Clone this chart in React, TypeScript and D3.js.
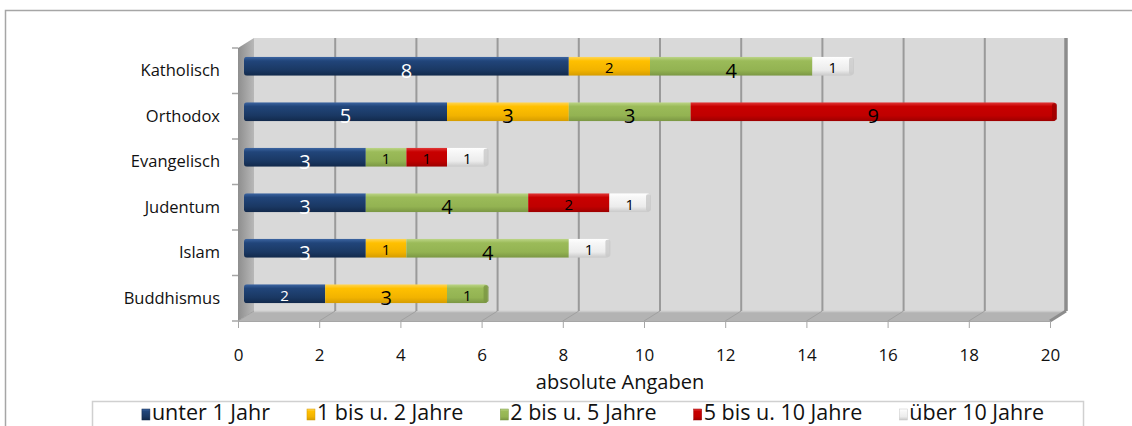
import { useRef, useEffect } from "react";
import * as d3 from "d3";

// categories top to bottom
const categories = ["Katholisch", "Orthodox", "Evangelisch", "Judentum", "Islam", "Buddhismus"];
const seriesNames = ["unter 1 Jahr", "1 bis u. 2 Jahre", "2 bis u. 5 Jahre", "5 bis u. 10 Jahre", "über 10 Jahre"];
// values per series, one per category
const unter1 = [8, 5, 3, 3, 3, 2];
const bis2 = [2, 3, 0, 0, 1, 3];
const bis5 = [4, 3, 1, 4, 4, 1];
const bis10 = [0, 9, 1, 2, 0, 0];
const ueber10 = [1, 0, 1, 1, 1, 0];
const xTicks = [0, 2, 4, 6, 8, 10, 12, 14, 16, 18, 20];
const xTitle = "absolute Angaben";

const colors = [
  ["#3d66a3", "#21457a", "#1a3863", "#12294b"],
  ["#ffd659", "#ffc000", "#f2b300", "#d59c00"],
  ["#bdd688", "#9bbb59", "#93b352", "#7a9643"],
  ["#e23a3a", "#c80000", "#c00000", "#9c0000"],
  ["#ffffff", "#f7f7f7", "#ececec", "#c8c8c8"],
];

const W = 1132;
const H = 426;
const FONT = "'Open Sans', Lato, sans-serif";

export default function App() {
  const svgRef = useRef<SVGSVGElement>(null);

  useEffect(() => {
    const svg = d3.select(svgRef.current);
    svg.selectAll("*").remove();

    const series = [unter1, bis2, bis5, bis10, ueber10];
    const rows = categories.map((c, i) => {
      const r: any = { cat: c };
      series.forEach((s, k) => (r["s" + k] = s[i]));
      return r;
    });
    const stacked = d3.stack().keys(series.map((_, k) => "s" + k))(rows);

    // front face geometry
    const x = d3.scaleLinear().domain([0, 20]).range([238, 1050]);
    const y = d3.scaleBand().domain(categories).range([48, 321]).paddingInner(0);
    const dx = 16, dy = -10; // depth offset of back wall
    const bx = 6, by = -4.5; // bars sit mid-depth
    const barH = 19;

    const defs = svg.append("defs");
    colors.forEach((c, k) => {
      const g = defs.append("linearGradient").attr("id", "g" + k).attr("x1", 0).attr("x2", 0).attr("y1", 0).attr("y2", 1);
      g.append("stop").attr("offset", "0%").attr("stop-color", c[0]);
      g.append("stop").attr("offset", "22%").attr("stop-color", c[1]);
      g.append("stop").attr("offset", "70%").attr("stop-color", c[2]);
      g.append("stop").attr("offset", "100%").attr("stop-color", c[3]);
    });
    const side = defs.append("linearGradient").attr("id", "side").attr("x1", 0).attr("x2", 1).attr("y1", 0).attr("y2", 0);
    side.append("stop").attr("offset", "0%").attr("stop-color", "#8e8e8e");
    side.append("stop").attr("offset", "100%").attr("stop-color", "#b8b8b8");

    // outer border
    svg.append("rect").attr("x", 5.5).attr("y", 10.5).attr("width", W + 20).attr("height", H + 20)
      .attr("fill", "#fff").attr("stroke", "#a6a6a6").attr("stroke-width", 1.5);

    const y0 = y.range()[0], y1 = y.range()[1];
    // back wall
    svg.append("rect").attr("x", x(0) + dx).attr("y", y0 + dy).attr("width", x(20) - x(0)).attr("height", y1 - y0)
      .attr("fill", "#d9d9d9");
    // side wall
    svg.append("polygon")
      .attr("points", [[x(0), y0], [x(0) + dx, y0 + dy], [x(0) + dx, y1 + dy], [x(0), y1]].map((p) => p.join(",")).join(" "))
      .attr("fill", "url(#side)");
    // floor
    svg.append("polygon")
      .attr("points", [[x(0), y1], [x(0) + dx, y1 + dy], [x(20) + dx, y1 + dy], [x(20), y1]].map((p) => p.join(",")).join(" "))
      .attr("fill", "#b3b3b3");
    svg.append("line").attr("x1", x(0) + dx).attr("x2", x(20) + dx).attr("y1", y1 + dy + 0.5).attr("y2", y1 + dy + 0.5)
      .attr("stroke", "#c9c9c9").attr("stroke-width", 1.5);

    // gridlines on back wall + floor diagonals
    xTicks.slice(1).forEach((t) => {
      svg.append("line").attr("x1", x(t) + dx).attr("x2", x(t) + dx).attr("y1", y0 + dy).attr("y2", y1 + dy)
        .attr("stroke", t === 20 ? "#8c8c8c" : "#9a9a9a").attr("stroke-width", t === 20 ? 3.5 : 2);
    });
    xTicks.forEach((t) => {
      svg.append("line").attr("x1", x(t) + dx).attr("x2", x(t)).attr("y1", y1 + dy).attr("y2", y1)
        .attr("stroke", t === 20 ? "#8c8c8c" : "#a0a0a0").attr("stroke-width", t === 20 ? 3 : 1);
    });

    // x axis
    const xAxis = svg.append("g").attr("transform", `translate(0,${y1})`)
      .call(d3.axisBottom(x).tickValues(xTicks).tickSize(7).tickPadding(21).tickFormat(d3.format("d")));
    xAxis.select(".domain").attr("stroke", "#a6a6a6");
    xAxis.selectAll(".tick line").attr("stroke", "#a6a6a6");
    xAxis.selectAll(".tick text").attr("font-family", FONT).attr("font-size", 17).attr("fill", "#111");

    svg.append("text").attr("x", 620).attr("y", 389).attr("text-anchor", "middle")
      .attr("font-family", FONT).attr("font-size", 20).attr("fill", "#111").text(xTitle);

    // y axis ticks + labels
    const yAxis = svg.append("g").attr("transform", `translate(${x(0)},0)`)
      .call(d3.axisLeft(y).tickSize(0).tickPadding(18));
    yAxis.select(".domain").remove();
    yAxis.selectAll(".tick text").attr("font-family", FONT).attr("font-size", 16.5).attr("fill", "#111");
    [...categories.map((c) => y(c) as number), y1].forEach((v) => {
      svg.append("line").attr("x1", x(0) - 6).attr("x2", x(0)).attr("y1", v).attr("y2", v)
        .attr("stroke", "#a6a6a6").attr("stroke-width", 1.5);
    });

    // bars
    categories.forEach((c, i) => {
      const top = (y(c) as number) + y.bandwidth() / 2 - barH / 2 + by;
      const total = series.reduce((a, s) => a + s[i], 0);
      const clipId = "clip" + i;
      defs.append("clipPath").attr("id", clipId).append("rect")
        .attr("x", x(0) + bx).attr("y", top).attr("width", x(total) - x(0)).attr("height", barH).attr("rx", 3);
      const g = svg.append("g").attr("clip-path", `url(#${clipId})`);
      stacked.forEach((s, k) => {
        const d = s[i];
        if (d[1] - d[0] <= 0) return;
        g.append("rect").attr("x", x(d[0]) + bx).attr("y", top).attr("width", x(d[1]) - x(d[0])).attr("height", barH)
          .attr("fill", `url(#g${k})`);
      });
      // end cap
      const lastK = stacked.map((s) => s[i][1] - s[i][0]).map((v, k) => (v > 0 ? k : -1)).reduce((a, b) => Math.max(a, b));
      svg.append("rect").attr("x", x(total) + bx - 4).attr("y", top + 1).attr("width", 5).attr("height", barH - 2)
        .attr("rx", 2).attr("fill", colors[lastK][3]).attr("opacity", 0.8);
      // labels
      stacked.forEach((s, k) => {
        const d = s[i];
        const v = d[1] - d[0];
        if (v <= 0) return;
        const big = v >= 3;
        svg.append("text").attr("x", (x(d[0]) + x(d[1])) / 2 + bx).attr("y", top + barH / 2 + (big ? 4 : 1))
          .attr("text-anchor", "middle").attr("dominant-baseline", "central")
          .attr("font-family", FONT).attr("font-size", big ? 20 : 15)
          .attr("fill", k === 0 ? "#fff" : "#000").text(v);
      });
    });

    // legend
    const lg = svg.append("g");
    lg.append("rect").attr("x", 92.5).attr("y", 401.5).attr("width", 991).attr("height", 40)
      .attr("fill", "#fff").attr("stroke", "#d0d0d0").attr("stroke-width", 1.5);
    const items = lg.append("g");
    const gap = 37;
    let cx = 0;
    seriesNames.forEach((n, k) => {
      const it = items.append("g").attr("transform", `translate(${cx},0)`);
      it.append("rect").attr("x", 0).attr("y", 409).attr("width", 8).attr("height", 11).attr("fill", `url(#g${k})`)
        .attr("stroke", colors[k][3]).attr("stroke-width", 0.5);
      const t = it.append("text").attr("x", 10).attr("y", 420).attr("font-family", FONT).attr("font-size", 21.5)
        .attr("fill", "#111").text(n);
      const w = (t.node() as SVGTextElement).getComputedTextLength();
      cx += 10 + w + gap;
    });
    const totalW = cx - gap;
    items.attr("transform", `translate(${(92 + 1084) / 2 - totalW / 2 + 5},0)`);
  }, []);

  return (
    <svg ref={svgRef} width={W} height={H} style={{ position: "absolute", left: 0, top: 0, background: "#fff" }} />
  );
}
